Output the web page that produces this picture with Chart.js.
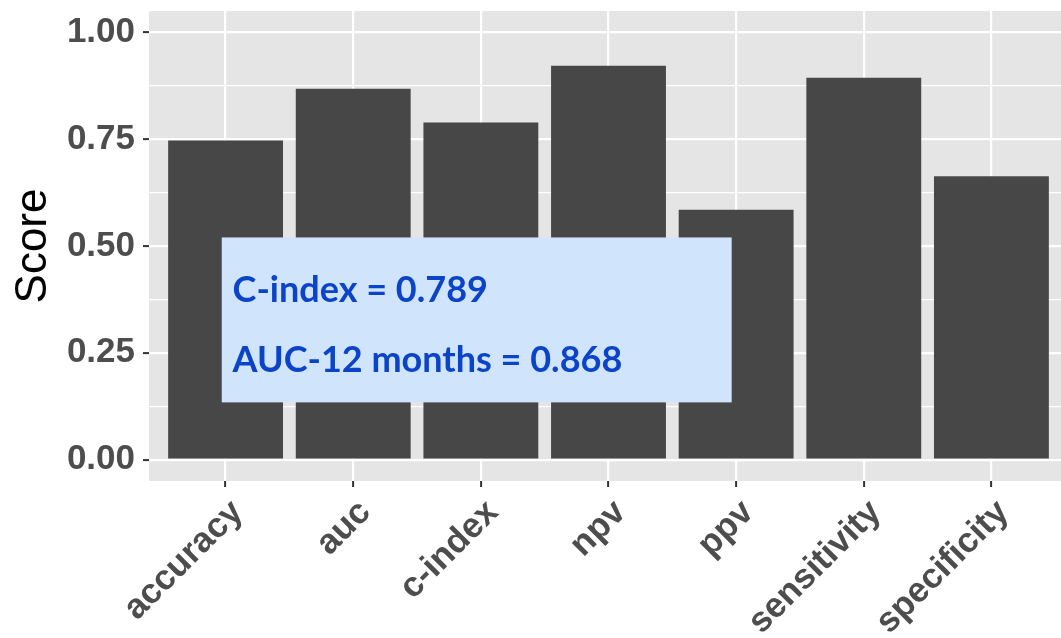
<!DOCTYPE html>
<html>
<head>
<meta charset="utf-8">
<script src="https://cdn.jsdelivr.net/npm/chart.js@4.4.1/dist/chart.umd.min.js"></script>
<style>
  html, body { margin: 0; padding: 0; background: #fff; overflow: hidden; }
  #wrap { width: 1068px; height: 638px; }
</style>
</head>
<body>
<div id="wrap"><canvas id="scores" width="1068" height="638"></canvas></div>
<script>
const categories = ['accuracy', 'auc', 'c-index', 'npv', 'ppv', 'sensitivity', 'specificity'];
const scores = [0.747, 0.868, 0.789, 0.922, 0.585, 0.894, 0.663];
const yTicks = [0, 0.25, 0.5, 0.75, 1];
const noteLines = ['C-index = 0.789', 'AUC-12 months = 0.868'];

// ggplot-ish minor breaks between the major ones
const yMinor = yTicks.slice(1).map((v, i) => (v + yTicks[i]) / 2);
const yAll = yTicks.concat(yMinor).sort((a, b) => a - b);
const isMajor = v => yTicks.some(t => Math.abs(t - v) < 1e-9);

const panelBg = {
  id: 'panelBg',
  beforeDraw(chart) {
    const { ctx, chartArea: a } = chart;
    ctx.save();
    ctx.fillStyle = '#e5e5e5';
    ctx.fillRect(a.left, a.top, a.right - a.left, a.bottom - a.top);
    ctx.restore();
  }
};

const noteBox = {
  id: 'noteBox',
  afterDatasetsDraw(chart) {
    const { ctx, scales: { x, y } } = chart;
    const l = x.getPixelForValue(0.97), r = x.getPixelForValue(4.965);
    const t = y.getPixelForValue(0.52), b = y.getPixelForValue(0.134);
    ctx.save();
    ctx.fillStyle = '#d0e5fb';
    ctx.fillRect(l, t, r - l, b - t);
    ctx.fillStyle = '#0b43c9';
    ctx.font = 'bold 36px Lato';
    ctx.textBaseline = 'alphabetic';
    ctx.fillText(noteLines[0], x.getPixelForValue(1.055), y.getPixelForValue(0.37));
    ctx.fillText(noteLines[1], x.getPixelForValue(1.055), y.getPixelForValue(0.204));
    ctx.restore();
  }
};

new Chart(document.getElementById('scores'), {
  type: 'bar',
  data: {
    datasets: [{
      data: categories.map((c, i) => ({ x: i + 1, y: scores[i] })),
      backgroundColor: '#474747',
      borderWidth: 0,
      barPercentage: 0.9,
      categoryPercentage: 1.0
    }]
  },
  options: {
    responsive: false,
    animation: false,
    devicePixelRatio: 1,
    layout: { padding: { top: 11, left: 0, right: 0, bottom: 0 } },
    plugins: { legend: { display: false }, tooltip: { enabled: false } },
    scales: {
      x: {
        type: 'linear',
        offset: false,
        min: 0.4,
        max: 7.6,
        afterBuildTicks: s => { s.ticks = categories.map((c, i) => ({ value: i + 1 })); },
        afterFit: s => { s.height = 157; s.paddingLeft = 0; s.paddingRight = 0; },
        grid: { offset: false, color: '#ffffff', lineWidth: 2.2, tickLength: 6, tickColor: '#333333', tickWidth: 2 },
        border: { display: false },
        ticks: {
          autoSkip: false,
          maxRotation: 45,
          minRotation: 45,
          padding: 5,
          labelOffset: 12,
          color: '#4d4d4d',
          font: { family: 'Liberation Sans', weight: 'bold', size: 35 },
          callback: v => categories[Math.round(v) - 1]
        }
      },
      y: {
        min: -0.05,
        max: 1.05,
        afterBuildTicks: s => { s.ticks = yAll.map(v => ({ value: v })); },
        afterFit: s => { s.width = 149; s.paddingTop = 0; s.paddingBottom = 0; },
        grid: {
          color: '#ffffff',
          lineWidth: c => isMajor(c.tick.value) ? 2.2 : 1.2,
          tickLength: 6,
          tickColor: c => isMajor(c.tick.value) ? '#333333' : 'rgba(0,0,0,0)',
          tickWidth: 2
        },
        border: { display: false },
        ticks: {
          autoSkip: false,
          padding: 8,
          color: '#4d4d4d',
          font: { family: 'Liberation Sans', weight: 'bold', size: 35 },
          callback: v => isMajor(v) ? v.toFixed(2) : ''
        },
        title: {
          display: true,
          text: 'Score',
          color: '#000000',
          padding: { top: 7, bottom: 0 },
          font: { family: 'Liberation Sans', size: 44 }
        }
      }
    }
  },
  plugins: [panelBg, noteBox]
});
</script>
</body>
</html>
